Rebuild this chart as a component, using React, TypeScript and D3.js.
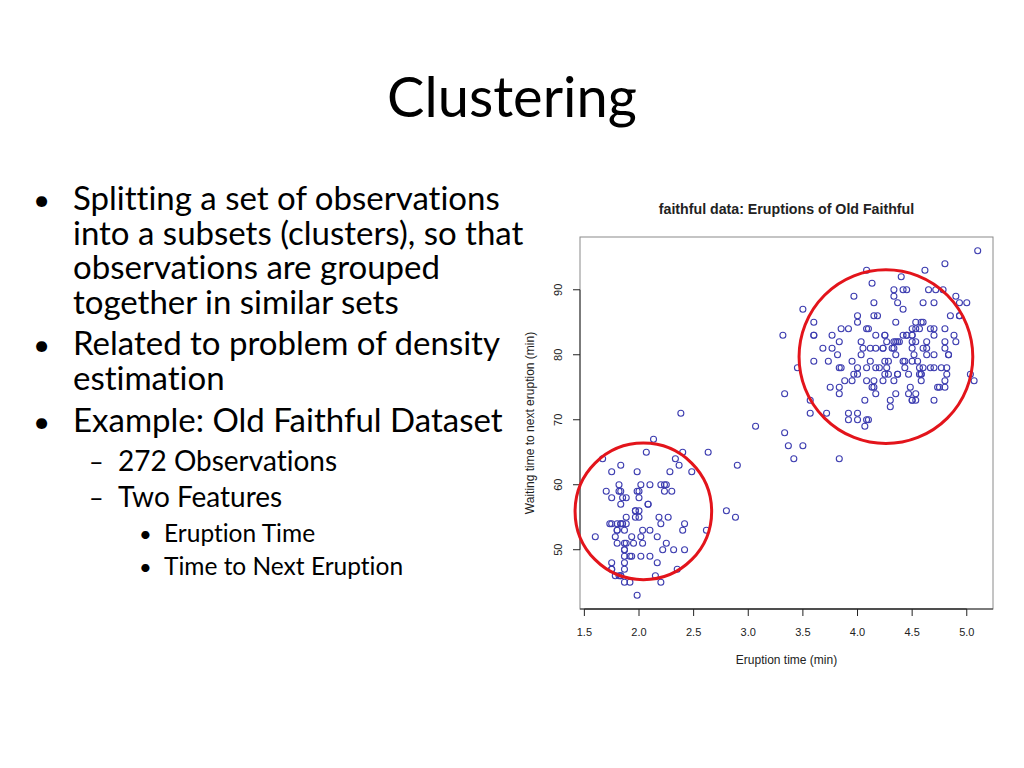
import React from 'react';
import * as d3 from 'd3';

// Old Faithful: eruption duration (min) and waiting time to next eruption (min)
const eruptions = [
  3.6, 1.8, 3.333, 2.283, 4.533, 2.883, 4.7, 3.6, 1.95, 4.35, 1.833, 3.917, 4.2, 1.75, 4.7, 2.167, 1.75, 4.8, 1.6, 4.25,
  1.8, 1.75, 3.45, 3.067, 4.533, 3.6, 1.967, 4.083, 3.85, 4.433, 4.3, 4.467, 3.367, 4.033, 3.833, 2.017, 1.867, 4.833, 1.833, 4.783,
  4.35, 1.883, 4.567, 1.75, 4.533, 3.317, 3.833, 2.1, 4.633, 2.0, 4.8, 4.716, 1.833, 4.833, 1.733, 4.883, 3.717, 1.667, 4.567, 4.317,
  2.233, 4.5, 1.75, 4.8, 1.817, 4.4, 4.167, 4.7, 2.067, 4.7, 4.033, 1.967, 4.5, 4.0, 1.983, 5.067, 2.017, 4.567, 3.883, 3.6,
  4.133, 4.333, 4.1, 2.633, 4.067, 4.933, 3.95, 4.517, 2.167, 4.0, 2.2, 4.333, 1.867, 4.817, 1.833, 4.3, 4.667, 3.75, 1.867, 4.9,
  2.483, 4.367, 2.1, 4.5, 4.05, 1.867, 4.7, 1.783, 4.85, 3.683, 4.733, 2.3, 4.9, 4.417, 1.7, 4.633, 2.317, 4.6, 1.817, 4.417,
  2.617, 4.067, 4.25, 1.967, 4.6, 3.767, 1.917, 4.5, 2.267, 4.65, 1.867, 4.167, 2.8, 4.333, 1.833, 4.383, 1.883, 4.933, 2.033, 3.733,
  4.233, 2.233, 4.533, 4.817, 4.333, 1.983, 4.633, 2.017, 5.1, 1.8, 5.033, 4.0, 2.4, 4.6, 3.567, 4.0, 4.5, 4.083, 1.8, 3.967,
  2.2, 4.15, 2.0, 3.833, 3.5, 4.583, 2.367, 5.0, 1.933, 4.617, 1.917, 2.083, 4.583, 3.333, 4.167, 4.333, 4.5, 2.417, 4.0, 4.167,
  1.883, 4.583, 4.25, 3.767, 2.033, 4.433, 4.083, 1.833, 4.417, 2.183, 4.8, 1.833, 4.8, 4.1, 3.966, 4.233, 3.5, 4.366, 2.25, 4.667,
  2.1, 4.35, 4.133, 1.867, 4.6, 1.783, 4.367, 3.85, 1.933, 4.5, 2.383, 4.7, 1.867, 3.833, 3.417, 4.233, 2.4, 4.8, 2.0, 4.15,
  1.867, 4.267, 1.75, 4.483, 4.0, 4.117, 4.083, 4.267, 3.917, 4.55, 4.083, 2.417, 4.183, 2.217, 4.45, 1.883, 1.85, 4.283, 3.95, 2.333,
  4.15, 2.35, 4.933, 2.9, 4.583, 3.833, 2.083, 4.367, 2.133, 4.35, 2.2, 4.45, 3.567, 4.5, 4.15, 3.817, 3.917, 4.45, 2.0, 4.283,
  4.767, 4.533, 1.85, 4.25, 1.983, 2.25, 4.75, 4.117, 2.15, 4.417, 1.817, 4.467,
];
const waiting = [
  79, 54, 74, 62, 85, 55, 88, 85, 51, 85, 54, 84, 78, 47, 83, 52, 62, 84, 52, 79,
  51, 47, 78, 69, 74, 83, 55, 76, 78, 79, 73, 77, 66, 80, 74, 52, 48, 80, 59, 90,
  80, 58, 84, 58, 73, 83, 64, 53, 82, 59, 75, 90, 54, 80, 54, 83, 71, 64, 77, 81,
  59, 84, 48, 82, 60, 92, 78, 78, 65, 73, 82, 56, 79, 71, 62, 76, 60, 78, 76, 83,
  75, 82, 70, 65, 73, 88, 76, 80, 48, 86, 60, 90, 50, 78, 63, 72, 84, 75, 51, 82,
  62, 88, 49, 83, 81, 47, 84, 52, 86, 81, 75, 59, 89, 79, 59, 81, 50, 85, 59, 87,
  53, 69, 77, 56, 88, 81, 45, 82, 55, 90, 45, 83, 56, 89, 46, 82, 51, 86, 53, 79,
  81, 60, 82, 77, 76, 59, 80, 49, 96, 53, 77, 77, 65, 81, 71, 70, 81, 93, 53, 89,
  45, 86, 58, 78, 66, 76, 63, 88, 52, 93, 49, 57, 77, 68, 81, 81, 73, 50, 85, 74,
  55, 77, 83, 83, 51, 78, 84, 46, 83, 55, 81, 57, 76, 84, 77, 81, 87, 77, 51, 78,
  60, 82, 91, 53, 78, 46, 77, 84, 49, 83, 71, 80, 49, 75, 64, 76, 53, 94, 55, 76,
  50, 82, 54, 75, 78, 79, 78, 78, 70, 79, 70, 54, 86, 50, 90, 54, 54, 77, 79, 64,
  75, 47, 86, 63, 85, 82, 57, 82, 67, 74, 54, 83, 73, 73, 88, 80, 71, 83, 56, 79,
  78, 84, 58, 83, 43, 60, 75, 81, 46, 90, 46, 74,
];

const xTicks = [1.5, 2.0, 2.5, 3.0, 3.5, 4.0, 4.5, 5.0];
const yTicks = [50, 60, 70, 80, 90];

// the two hand-drawn cluster rings (centre in data units, radius in eruption minutes)
const clusterX = [2.04, 4.26];
const clusterY = [55.9, 79.7];
const clusterR = [0.625, 0.795];

const bullets = [
  { level: 0, lines: ['Splitting a set of observations', 'into a subsets (clusters), so that', 'observations are grouped', 'together in similar sets'] },
  { level: 0, lines: ['Related to problem of density', 'estimation'] },
  { level: 0, lines: ['Example: Old Faithful Dataset'] },
  { level: 1, lines: ['272 Observations'] },
  { level: 1, lines: ['Two Features'] },
  { level: 2, lines: ['Eruption Time'] },
  { level: 2, lines: ['Time to Next Eruption'] },
];

const slideFont = 'Lato, Carlito, Calibri, "Open Sans", sans-serif';
const plotFont = '"Liberation Sans", Arial, Helvetica, sans-serif';
const noLiga = { fontVariantLigatures: 'none' as const, fontFeatureSettings: '"liga" 0, "clig" 0' };

export default function App() {
  const left = 580, right = 993, top = 237, bottom = 609;
  const x = d3.scaleLinear().domain([1.46, 5.24]).range([left, right]);
  const y = d3.scaleLinear().domain([40.88, 98.12]).range([bottom, top]);
  const pts = eruptions.map((e, i) => [e, waiting[i]]);

  // bullet layout
  const levelStyle = [
    { bx: 33, tx: 73, size: 33, gap: 34.5, mark: '•' },
    { bx: 89, tx: 118, size: 28, gap: 36, mark: '–' },
    { bx: 139, tx: 164, size: 24.5, gap: 32.5, mark: '•' },
  ];
  const starts = [210, 355, 432, 471, 507, 542, 575];

  return (
    <div style={{ position: 'absolute', left: 0, top: 0, width: 1024, height: 768, background: '#fff' }}>
      <svg width={1024} height={768} viewBox="0 0 1024 768" style={{ display: 'block' }}>
        <rect width={1024} height={768} fill="#fff" />
        <text x={512} y={117} textAnchor="middle" fontSize={56} fontFamily={slideFont} fill="#000" style={noLiga}>Clustering</text>
        <g fill="#000" fontFamily={slideFont}>
          {bullets.map((b, bi) => {
            const st = levelStyle[b.level];
            return (
              <g key={'b' + bi}>
                <text x={st.bx} y={starts[bi]} fontSize={st.size * 0.9}>{st.mark}</text>
                <text x={st.tx} y={starts[bi]} fontSize={st.size} style={noLiga}>
                  {b.lines.map((ln, li) => (
                    <tspan key={li} x={st.tx} dy={li === 0 ? 0 : st.gap}>{ln}</tspan>
                  ))}
                </text>
              </g>
            );
          })}
        </g>

        {/* plot */}
        <text x={(left + right) / 2} y={214} textAnchor="middle" fontSize={14.2} fontWeight="bold" fontFamily={plotFont} fill="#222">
          faithful data: Eruptions of Old Faithful
        </text>
        <rect x={left} y={top} width={right - left} height={bottom - top} fill="none" stroke="#8a8a8a" strokeWidth={1} />
        <line x1={left} x2={right} y1={bottom} y2={bottom} stroke="#333" strokeWidth={1} />
        <line x1={x(xTicks[0])} x2={x(xTicks[xTicks.length - 1])} y1={bottom} y2={bottom} stroke="#222" strokeWidth={1} />
        <line x1={left} x2={left} y1={y(yTicks[0])} y2={y(yTicks[yTicks.length - 1])} stroke="#333" strokeWidth={1} />
        {xTicks.map(t => (
          <g key={'xt' + t}>
            <line x1={x(t)} x2={x(t)} y1={bottom} y2={bottom + 7} stroke="#222" />
            <text x={x(t)} y={636} textAnchor="middle" fontSize={11} fontFamily={plotFont} fill="#222">{t.toFixed(1)}</text>
          </g>
        ))}
        {yTicks.map(t => (
          <g key={'yt' + t}>
            <line x1={left} x2={left - 7} y1={y(t)} y2={y(t)} stroke="#222" />
            <text transform={`translate(562,${y(t)}) rotate(-90)`} textAnchor="middle" fontSize={11} fontFamily={plotFont} fill="#222">{t}</text>
          </g>
        ))}
        <text x={(left + right) / 2} y={664} textAnchor="middle" fontSize={12} fontFamily={plotFont} fill="#222">Eruption time (min)</text>
        <text transform={`translate(534,${(top + bottom) / 2}) rotate(-90)`} textAnchor="middle" fontSize={12} fontFamily={plotFont} fill="#222">
          Waiting time to next eruption (min)
        </text>

        <g fill="none" stroke="#3d3db0" strokeWidth={1.1}>
          {pts.map((p, i) => (
            <circle key={i} cx={x(p[0])} cy={y(p[1])} r={3} />
          ))}
        </g>

        <g fill="none" stroke="#e3141b" strokeWidth={3}>
          {clusterX.map((cx, i) => (
            <circle key={'c' + i} cx={x(cx)} cy={y(clusterY[i])} r={x(clusterX[i] + clusterR[i]) - x(clusterX[i])} />
          ))}
        </g>
      </svg>
    </div>
  );
}
